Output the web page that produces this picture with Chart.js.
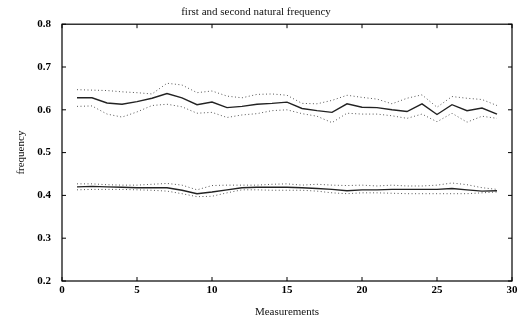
<!DOCTYPE html>
<html>
<head>
<meta charset="utf-8">
<script src="https://cdn.jsdelivr.net/npm/chart.js@4.4.1/dist/chart.umd.min.js"></script>
<style>
html,body{margin:0;padding:0;background:#fff;}
#wrap{width:525px;height:327px;}
</style>
</head>
<body>
<div id="wrap"><canvas id="c" width="525" height="327"></canvas></div>
<script>
const measurements = [1,2,3,4,5,6,7,8,9,10,11,12,13,14,15,16,17,18,19,20,21,22,23,24,25,26,27,28,29];
const first_mean  = [0.420,0.421,0.420,0.419,0.418,0.418,0.418,0.412,0.404,0.408,0.413,0.418,0.419,0.419,0.419,0.418,0.416,0.414,0.411,0.413,0.413,0.414,0.414,0.414,0.414,0.416,0.413,0.410,0.411];
const first_upper = [0.427,0.427,0.425,0.424,0.424,0.426,0.428,0.424,0.413,0.423,0.424,0.424,0.424,0.426,0.427,0.424,0.426,0.424,0.423,0.424,0.422,0.424,0.422,0.422,0.424,0.429,0.425,0.418,0.414];
const first_lower = [0.413,0.414,0.414,0.414,0.413,0.412,0.410,0.404,0.397,0.398,0.406,0.413,0.413,0.412,0.412,0.412,0.410,0.406,0.404,0.406,0.406,0.405,0.404,0.404,0.404,0.404,0.404,0.406,0.408];
const second_mean  = [0.628,0.628,0.616,0.613,0.619,0.627,0.638,0.628,0.612,0.618,0.605,0.608,0.613,0.615,0.618,0.603,0.598,0.594,0.614,0.606,0.605,0.600,0.596,0.614,0.589,0.612,0.598,0.604,0.590];
const second_upper = [0.647,0.646,0.645,0.642,0.640,0.637,0.662,0.658,0.640,0.644,0.632,0.628,0.636,0.637,0.634,0.615,0.614,0.622,0.634,0.629,0.625,0.614,0.627,0.635,0.606,0.631,0.627,0.624,0.610];
const second_lower = [0.608,0.609,0.590,0.583,0.595,0.610,0.613,0.607,0.592,0.594,0.582,0.588,0.591,0.598,0.600,0.591,0.585,0.570,0.592,0.590,0.590,0.586,0.580,0.590,0.572,0.592,0.571,0.585,0.580];
const xTicks = [0,5,10,15,20,25,30];
const yTicks = [0.2,0.3,0.4,0.5,0.6,0.7,0.8];

const pts = arr => measurements.map((m,i)=>({x:m,y:arr[i]}));
const solid = {borderColor:'#222', borderWidth:1.4, pointRadius:0, fill:false, tension:0};
const dotted = {borderColor:'#555', borderWidth:1, borderDash:[1,2.5], pointRadius:0, fill:false, tension:0};

const frame = {
  id:'frame',
  afterDatasetsDraw(chart){
    const {ctx, chartArea:a, scales:{x,y}} = chart;
    ctx.save();
    ctx.strokeStyle='#000';
    ctx.lineWidth=1.2;
    ctx.strokeRect(a.left, a.top, a.right-a.left, a.bottom-a.top);
    ctx.lineWidth=1;
    const L=4;
    xTicks.forEach(v=>{
      const px=x.getPixelForValue(v);
      ctx.beginPath();
      ctx.moveTo(px,a.bottom); ctx.lineTo(px,a.bottom-L);
      ctx.moveTo(px,a.top); ctx.lineTo(px,a.top+L);
      ctx.stroke();
    });
    yTicks.forEach(v=>{
      const py=y.getPixelForValue(v);
      ctx.beginPath();
      ctx.moveTo(a.left,py); ctx.lineTo(a.left+L,py);
      ctx.moveTo(a.right,py); ctx.lineTo(a.right-L,py);
      ctx.stroke();
    });
    ctx.restore();
  }
};

new Chart(document.getElementById('c'), {
  type:'line',
  data:{datasets:[
    Object.assign({label:'f2 upper', data:pts(second_upper)}, dotted),
    Object.assign({label:'f2 mean', data:pts(second_mean)}, solid),
    Object.assign({label:'f2 lower', data:pts(second_lower)}, dotted),
    Object.assign({label:'f1 upper', data:pts(first_upper)}, dotted),
    Object.assign({label:'f1 mean', data:pts(first_mean)}, solid),
    Object.assign({label:'f1 lower', data:pts(first_lower)}, dotted)
  ]},
  options:{
    responsive:false,
    animation:false,
    layout:{padding:{left:0,right:13,top:0,bottom:0}},
    plugins:{
      legend:{display:false},
      tooltip:{enabled:false},
      title:{display:true, text:'first and second natural frequency', color:'#111',
        font:{family:'Liberation Serif', size:11, weight:'normal'}, padding:{top:6,bottom:5}}
    },
    scales:{
      x:{type:'linear', min:0, max:30,
        afterBuildTicks(s){ s.ticks = xTicks.map(v=>({value:v})); },
        afterFit(s){ s.height = 46; },
        grid:{display:false}, border:{display:false},
        ticks:{color:'#000', padding:-5, maxRotation:0, font:{family:'Liberation Serif', size:11, weight:'bold'}},
        title:{display:true, text:'Measurements', color:'#111', font:{family:'Liberation Serif', size:11}, padding:{top:8,bottom:8}}
      },
      y:{min:0.2, max:0.8,
        afterBuildTicks(s){ s.ticks = yTicks.map(v=>({value:v})); },
        afterFit(s){ s.width = 62; },
        grid:{display:false}, border:{display:false},
        ticks:{color:'#000', padding:3, callback:v=>v.toFixed(1), font:{family:'Liberation Serif', size:11, weight:'bold'}},
        title:{display:true, text:'frequency', color:'#111', font:{family:'Liberation Serif', size:11}, padding:{top:15,bottom:0}}
      }
    }
  },
  plugins:[frame]
});
</script>
</body>
</html>
